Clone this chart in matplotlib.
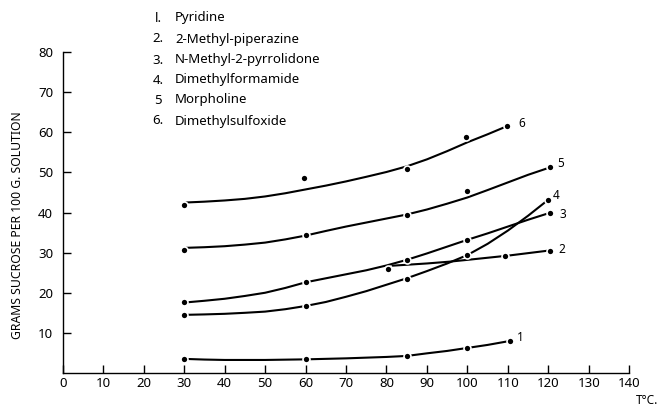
import matplotlib
matplotlib.use("Agg")
import matplotlib.pyplot as plt

plt.rcParams['font.family'] = ['Noto Sans', 'DejaVu Sans']

# measured points (temperature, grams sucrose per 100 g solution)
pyr_t = [30, 60, 85, 100, 110.6]
pyr_g = [3.5, 3.5, 4.25, 6.25, 8.0]
mpip_t = [80.4, 109.4, 120.3]
mpip_g = [26.0, 29.25, 30.5]
nmp_t = [30, 60, 85, 100, 120.5]
nmp_g = [17.75, 22.75, 28.25, 33.25, 40.0]
dmf_t = [30, 60, 85, 100, 119.8]
dmf_g = [14.5, 16.75, 23.5, 29.5, 43.0]
morph_t = [30, 60, 85, 100, 120.3]
morph_g = [30.75, 34.3, 39.3, 45.25, 51.25]
dmso_t = [30, 59.5, 85, 99.75, 109.7]
dmso_g = [41.75, 48.5, 50.75, 58.75, 61.5]

pyr_ct = [30.5, 35, 40, 50, 60, 70, 80, 85, 90, 95, 100, 105, 110]
pyr_cg = [3.5, 3.35, 3.25, 3.25, 3.4, 3.65, 4.0, 4.25, 4.9, 5.5, 6.25, 7.0, 7.9]
mpip_ct = [81.5, 90, 95.6, 100, 110, 120]
mpip_cg = [26.75, 27.3, 27.75, 28.2, 29.25, 30.5]
nmp_ct = [30.5, 35, 40, 45, 50, 55, 60, 65, 70, 75, 80, 85, 90, 95, 100, 105, 110, 115, 120]
nmp_cg = [17.6, 18.0, 18.5, 19.2, 20.0, 21.2, 22.6, 23.6, 24.6, 25.6, 26.8, 28.2, 29.8, 31.5, 33.2, 34.8, 36.5, 38.2, 39.8]
dmf_ct = [30.5, 35, 40, 45, 50, 55, 60, 65, 70, 75, 80, 85, 90, 95, 100, 105, 110, 115, 119.5]
dmf_cg = [14.5, 14.6, 14.75, 15.0, 15.3, 15.9, 16.7, 17.7, 19.0, 20.4, 22.0, 23.6, 25.4, 27.3, 29.4, 32.2, 35.5, 39.2, 42.8]
morph_ct = [30.5, 35, 40, 45, 50, 55, 60, 65, 70, 75, 80, 85, 90, 95, 100, 105, 110, 115, 120]
morph_cg = [31.2, 31.35, 31.6, 32.0, 32.5, 33.3, 34.25, 35.4, 36.5, 37.5, 38.5, 39.5, 40.75, 42.2, 43.75, 45.6, 47.5, 49.4, 51.1]
dmso_ct = [30.5, 35, 40, 45, 50, 55, 60, 65, 70, 75, 80, 85, 90, 95, 100, 105, 109.5]
dmso_cg = [42.5, 42.7, 43.0, 43.4, 44.0, 44.8, 45.75, 46.7, 47.75, 48.9, 50.1, 51.5, 53.25, 55.3, 57.5, 59.5, 61.4]

curve_labels = ['1', '2', '3', '4', '5', '6']
label_t = [113, 123.3, 123.5, 122, 123, 113.4]
label_g = [8.75, 30.8, 39.5, 44.25, 52.25, 62.25]

legend_nums = ['l.', '2.', '3.', '4.', '5', '6.']
legend_names = ['Pyridine', '2-Methyl-piperazine', 'N-Methyl-2-pyrrolidone',
                'Dimethylformamide', 'Morpholine', 'Dimethylsulfoxide']

x_ticks = list(range(0, 141, 10))
y_ticks = list(range(10, 81, 10))

fig = plt.figure(figsize=(6.61, 4.08), dpi=100)
ax = fig.add_axes([0.095, 0.0858, 0.857, 0.7867])

series = [
    (pyr_t, pyr_g, pyr_ct, pyr_cg),
    (mpip_t, mpip_g, mpip_ct, mpip_cg),
    (nmp_t, nmp_g, nmp_ct, nmp_cg),
    (dmf_t, dmf_g, dmf_ct, dmf_cg),
    (morph_t, morph_g, morph_ct, morph_cg),
    (dmso_t, dmso_g, dmso_ct, dmso_cg),
]
for pt, pg, ct, cg in series:
    ax.plot(ct, cg, color='black', linewidth=1.5, solid_capstyle='round',
            solid_joinstyle='round', zorder=2)
    ax.plot(pt, pg, 'o', color='black', markersize=4.4,
            markeredgecolor='white', markeredgewidth=1.8, zorder=3)
    ax.plot(pt, pg, 'o', color='black', markersize=3.8, markeredgewidth=0, zorder=4)

for lab, lt, lg in zip(curve_labels, label_t, label_g):
    ax.text(lt, lg, lab, fontsize=8.5, fontweight='bold', ha='center', va='center')

ax.set_xlim(0, 140)
ax.set_ylim(0, 80)
ax.set_xticks(x_ticks)
ax.set_yticks(y_ticks)
ax.tick_params(direction='in', length=6, width=1.0, labelsize=9.5)
ax.tick_params(axis='y', pad=7)
ax.tick_params(axis='x', pad=3)
for side in ['top', 'right']:
    ax.spines[side].set_visible(False)
for side in ['left', 'bottom']:
    ax.spines[side].set_linewidth(1.0)

# legend block at top
leg_y = [18, 39, 60, 80, 100, 121]
for num, name, yp in zip(legend_nums, legend_names, leg_y):
    fig.text(158 / 661, 1 - yp / 408, num, fontsize=9.5, ha='center', va='center')
    fig.text(175 / 661, 1 - yp / 408, name, fontsize=9.5, ha='left', va='center')

fig.text(18 / 661, 1 - 225 / 408, 'GRAMS SUCROSE PER 100 G. SOLUTION',
         rotation=90, fontsize=8.8, fontweight='bold', ha='center', va='center')
fig.text(647 / 661, 1 - 400 / 408, 'T°C.', fontsize=8.5, ha='center', va='center')

fig.savefig('out.png', dpi=100)
